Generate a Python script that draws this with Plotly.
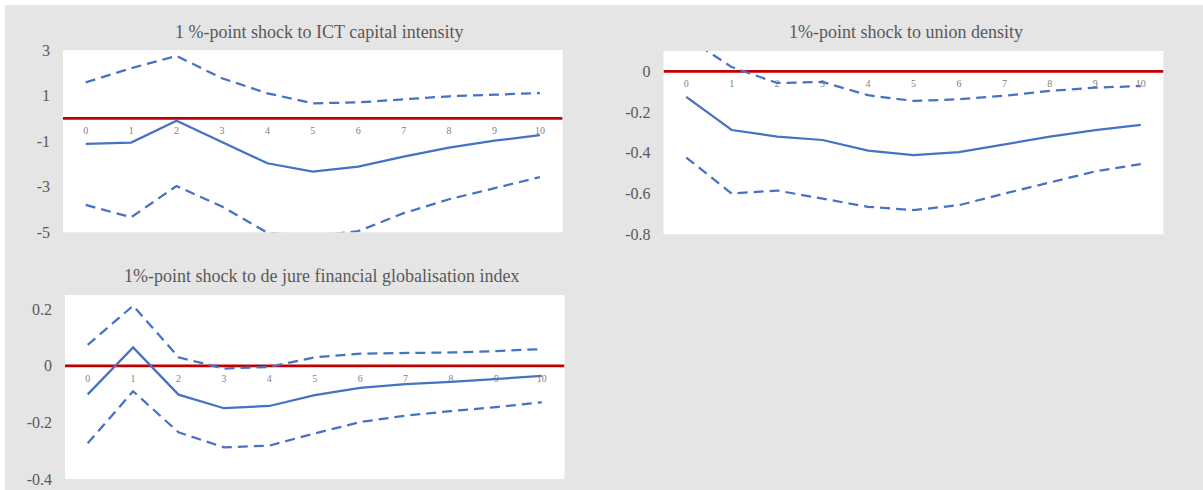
import plotly.graph_objects as go

W, H = 1203, 490

periods = [0, 1, 2, 3, 4, 5, 6, 7, 8, 9, 10]
period_labels = [str(p) for p in periods]

# Panel 1: ICT capital intensity
ict_mid = [-1.12, -1.06, -0.10, -1.02, -1.97, -2.34, -2.12, -1.68, -1.28, -0.98, -0.74]
ict_up = [1.58, 2.20, 2.74, 1.76, 1.10, 0.66, 0.70, 0.85, 0.97, 1.04, 1.11]
ict_lo = [-3.80, -4.34, -2.97, -3.87, -5.02, -5.18, -4.95, -4.16, -3.55, -3.07, -2.58]

# Panel 2: union density
uni_mid = [-0.125, -0.288, -0.320, -0.337, -0.389, -0.411, -0.397, -0.358, -0.320, -0.288, -0.263]
uni_up = [0.168, 0.021, -0.057, -0.052, -0.117, -0.145, -0.137, -0.120, -0.096, -0.080, -0.072]
uni_lo = [-0.423, -0.600, -0.585, -0.624, -0.665, -0.681, -0.657, -0.600, -0.545, -0.491, -0.455]

# Panel 3: de jure financial globalisation index
fin_mid = [-0.101, 0.065, -0.102, -0.150, -0.142, -0.104, -0.078, -0.065, -0.057, -0.046, -0.036]
fin_up = [0.074, 0.212, 0.030, -0.010, -0.004, 0.030, 0.043, 0.044, 0.047, 0.052, 0.059]
fin_lo = [-0.274, -0.090, -0.235, -0.288, -0.282, -0.239, -0.199, -0.176, -0.160, -0.146, -0.129]

titles = [
    "1 %-point shock to ICT capital intensity",
    "1%-point shock to union density",
    "1%-point shock to de jure financial globalisation index",
]

BLUE = "#4472c4"
RED = "#c00000"
GRAY_BG = "#e5e5e5"
TXT = "#595959"
FONT = "Liberation Serif, Times New Roman, serif"

# panel pixel boxes: (left, right, top, bottom), y-range, tick values
panels = [
    dict(box=(63, 562.6, 50, 232.3), rng=[-5, 3], tickvals=[-5, -3, -1, 1, 3],
         ticktext=["-5", "-3", "-1", "1", "3"], data=(ict_mid, ict_up, ict_lo), title_xy=(319, 32)),
    dict(box=(663.5, 1163.5, 51, 234.3), rng=[-0.8, 0.1], tickvals=[-0.8, -0.6, -0.4, -0.2, 0],
         ticktext=["-0.8", "-0.6", "-0.4", "-0.2", "0"], data=(uni_mid, uni_up, uni_lo), title_xy=(906, 32)),
    dict(box=(65, 564.5, 295, 479), rng=[-0.4, 0.25], tickvals=[-0.4, -0.2, 0, 0.2],
         ticktext=["-0.4", "-0.2", "0", "0.2"], data=(fin_mid, fin_up, fin_lo), title_xy=(321, 276)),
]

fig = go.Figure()
layout = dict(
    width=W, height=H,
    margin=dict(l=0, r=0, t=0, b=0, pad=0, autoexpand=False),
    paper_bgcolor=GRAY_BG,
    showlegend=False,
    shapes=[],
    annotations=[],
)

for i, p in enumerate(panels):
    n = "" if i == 0 else str(i + 1)
    xa, ya = "xaxis" + n, "yaxis" + n
    xr, yr = "x" + n, "y" + n
    l, r, t, b = p["box"]
    xdom = [l / W, r / W]
    ydom = [1 - b / H, 1 - t / H]
    ymin, ymax = p["rng"]
    zero_pos = ydom[0] + (0 - ymin) / (ymax - ymin) * (ydom[1] - ydom[0])

    mid, up, lo = p["data"]
    # zero reference line
    fig.add_trace(go.Scatter(x=[-0.5, 10.5], y=[0, 0], mode="lines",
                             line=dict(color=RED, width=2.75), xaxis=xr, yaxis=yr,
                             hoverinfo="skip"))
    fig.add_trace(go.Scatter(x=periods, y=up, mode="lines",
                             line=dict(color=BLUE, width=2.25, dash="10px,6px"), xaxis=xr, yaxis=yr))
    fig.add_trace(go.Scatter(x=periods, y=lo, mode="lines",
                             line=dict(color=BLUE, width=2.25, dash="10px,6px"), xaxis=xr, yaxis=yr))
    fig.add_trace(go.Scatter(x=periods, y=mid, mode="lines",
                             line=dict(color=BLUE, width=2.25), xaxis=xr, yaxis=yr))

    layout[xa] = dict(domain=xdom, range=[-0.5, 10.5], anchor="free", position=zero_pos,
                      tickvals=periods, ticktext=period_labels, showgrid=False, zeroline=False,
                      showline=False, ticks="", ticklabelstandoff=5, automargin=False,
                      tickfont=dict(family=FONT, size=10, color="#7f7f7f"), fixedrange=True)
    layout[ya] = dict(domain=ydom, range=p["rng"], anchor=xr, tickvals=p["tickvals"],
                      ticktext=p["ticktext"], showgrid=False, zeroline=False, showline=False,
                      ticks="", ticklabelstandoff=12, automargin=False,
                      tickfont=dict(family=FONT, size=16, color=TXT), fixedrange=True)
    # white plot area
    layout["shapes"].append(dict(type="rect", xref="paper", yref="paper",
                                 x0=xdom[0], x1=xdom[1], y0=ydom[0], y1=ydom[1],
                                 fillcolor="white", line=dict(width=0), layer="below"))
    tx, ty = p["title_xy"]
    layout["annotations"].append(dict(text=titles[i], xref="paper", yref="paper",
                                      x=tx / W, y=1 - ty / H, xanchor="center", yanchor="middle",
                                      showarrow=False, font=dict(family=FONT, size=18, color=TXT)))

# white page edge at top and left of the gray chart area
layout["shapes"].append(dict(type="rect", xref="paper", yref="paper", x0=0, x1=5 / W, y0=0, y1=1,
                             fillcolor="white", line=dict(width=0), layer="below"))
layout["shapes"].append(dict(type="rect", xref="paper", yref="paper", x0=0, x1=1, y0=1 - 5 / H, y1=1,
                             fillcolor="white", line=dict(width=0), layer="below"))

layout["plot_bgcolor"] = "rgba(0,0,0,0)"
fig.update_layout(**layout)
fig.write_html("out.html",
               config={"displayModeBar": False},
               post_script="document.body.style.margin='0';document.body.style.overflow='hidden';")
